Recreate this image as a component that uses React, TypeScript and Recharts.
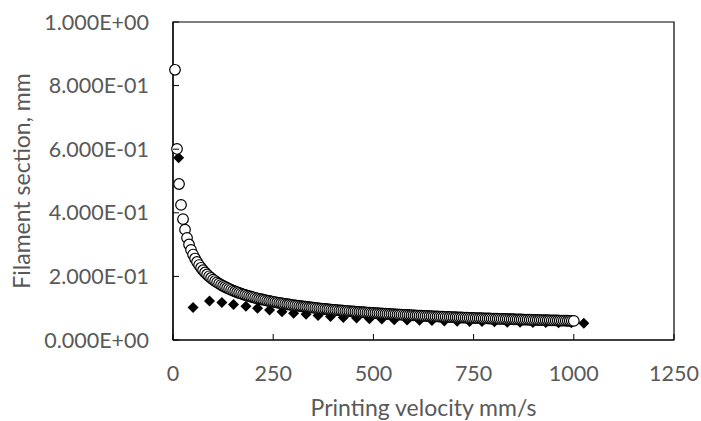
import React from "react";
import {
  ScatterChart,
  Scatter,
  XAxis,
  YAxis,
  ReferenceArea,
} from "recharts";

// Open-circle series (printing velocity, mm/s -> filament section, mm)
const circleVelocity = [
  5, 10, 15, 20, 25, 30, 35, 40, 45, 50, 55, 60, 65, 70, 75, 80, 85, 90, 95, 100,
  105, 110, 115, 120, 125, 130, 135, 140, 145, 150, 155, 160, 165, 170, 175, 180, 185, 190, 195, 200,
  205, 210, 215, 220, 225, 230, 235, 240, 245, 250, 255, 260, 265, 270, 275, 280, 285, 290, 295, 300,
  305, 310, 315, 320, 325, 330, 335, 340, 345, 350, 355, 360, 365, 370, 375, 380, 385, 390, 395, 400,
  405, 410, 415, 420, 425, 430, 435, 440, 445, 450, 455, 460, 465, 470, 475, 480, 485, 490, 495, 500,
  505, 510, 515, 520, 525, 530, 535, 540, 545, 550, 555, 560, 565, 570, 575, 580, 585, 590, 595, 600,
  605, 610, 615, 620, 625, 630, 635, 640, 645, 650, 655, 660, 665, 670, 675, 680, 685, 690, 695, 700,
  705, 710, 715, 720, 725, 730, 735, 740, 745, 750, 755, 760, 765, 770, 775, 780, 785, 790, 795, 800,
  805, 810, 815, 820, 825, 830, 835, 840, 845, 850, 855, 860, 865, 870, 875, 880, 885, 890, 895, 900,
  905, 910, 915, 920, 925, 930, 935, 940, 945, 950, 955, 960, 965, 970, 975, 980, 985, 990, 995, 1000,
];

const circleSection = [
  0.8497, 0.6008, 0.4906, 0.4249, 0.38, 0.3469, 0.3212, 0.3004, 0.2832, 0.2687,
  0.2562, 0.2453, 0.2357, 0.2271, 0.2194, 0.2124, 0.2061, 0.2003, 0.1949, 0.19,
  0.1854, 0.1812, 0.1772, 0.1734, 0.1699, 0.1666, 0.1635, 0.1606, 0.1578, 0.1551,
  0.1526, 0.1502, 0.1479, 0.1457, 0.1436, 0.1416, 0.1397, 0.1378, 0.1361, 0.1343,
  0.1327, 0.1311, 0.1296, 0.1281, 0.1267, 0.1253, 0.1239, 0.1226, 0.1214, 0.1202,
  0.119, 0.1178, 0.1167, 0.1156, 0.1146, 0.1135, 0.1125, 0.1116, 0.1106, 0.1097,
  0.1088, 0.1079, 0.1071, 0.1062, 0.1054, 0.1046, 0.1038, 0.103, 0.1023, 0.1016,
  0.1008, 0.1001, 0.0995, 0.0988, 0.0981, 0.0975, 0.0968, 0.0962, 0.0956, 0.095,
  0.0944, 0.0938, 0.0933, 0.0927, 0.0922, 0.0916, 0.0911, 0.0906, 0.0901, 0.0896,
  0.0891, 0.0886, 0.0881, 0.0876, 0.0872, 0.0867, 0.0863, 0.0858, 0.0854, 0.085,
  0.0845, 0.0841, 0.0837, 0.0833, 0.0829, 0.0825, 0.0821, 0.0818, 0.0814, 0.081,
  0.0806, 0.0803, 0.0799, 0.0796, 0.0792, 0.0789, 0.0786, 0.0782, 0.0779, 0.0776,
  0.0772, 0.0769, 0.0766, 0.0763, 0.076, 0.0757, 0.0754, 0.0751, 0.0748, 0.0745,
  0.0742, 0.074, 0.0737, 0.0734, 0.0731, 0.0729, 0.0726, 0.0723, 0.0721, 0.0718,
  0.0716, 0.0713, 0.0711, 0.0708, 0.0706, 0.0703, 0.0701, 0.0698, 0.0696, 0.0694,
  0.0691, 0.0689, 0.0687, 0.0685, 0.0682, 0.068, 0.0678, 0.0676, 0.0674, 0.0672,
  0.067, 0.0668, 0.0666, 0.0664, 0.0662, 0.066, 0.0658, 0.0656, 0.0654, 0.0652,
  0.065, 0.0648, 0.0646, 0.0644, 0.0642, 0.0641, 0.0639, 0.0637, 0.0635, 0.0633,
  0.0632, 0.063, 0.0628, 0.0626, 0.0625, 0.0623, 0.0621, 0.062, 0.0618, 0.0616,
  0.0615, 0.0613, 0.0612, 0.061, 0.0608, 0.0607, 0.0605, 0.0604, 0.0602, 0.0601,
];

// Filled-diamond series
const diamondVelocity = [
  14, 50, 91, 122, 151, 182, 211, 241, 272, 301, 332, 362, 393, 425, 458, 490, 521,
  552, 584, 615, 646, 677, 709, 740, 771, 802, 834, 866, 898, 930, 962, 994, 1025,
];
const diamondSection = [
  0.573, 0.102, 0.123, 0.118, 0.112, 0.106, 0.1, 0.094, 0.089, 0.084, 0.081, 0.077,
  0.074, 0.071, 0.069, 0.067, 0.066, 0.064, 0.063, 0.062, 0.061, 0.06, 0.059, 0.058,
  0.058, 0.057, 0.056, 0.056, 0.055, 0.055, 0.054, 0.054, 0.053,
];

const xTicks = [0, 250, 500, 750, 1000, 1250];
const yTicks = [0, 0.2, 0.4, 0.6, 0.8, 1.0];
const yTickLabels = ["0.000E+00", "2.000E-01", "4.000E-01", "6.000E-01", "8.000E-01", "1.000E+00"];

const xTitle = "Printing velocity mm/s";
const yTitle = "Filament section, mm";

const circleData = circleVelocity.map((v, i) => ({ v, s: circleSection[i] }));
const diamondData = diamondVelocity.map((v, i) => ({ v, s: diamondSection[i] }));

const FONT = "Lato, 'Liberation Sans', sans-serif";
const TEXT = "#595959";
const FS = 21.5;
const FS_TITLE = 23;

const XTick = (props: any) => {
  const { x, y, payload } = props;
  return (
    <g>
      <line x1={x} y1={y} x2={x} y2={y - 6} stroke="#000" strokeWidth={1} />
      <text x={x} y={y + 33.5} dy="0.35em" textAnchor="middle" fill={TEXT} fontSize={FS} fontFamily={FONT}>
        {payload.value}
      </text>
    </g>
  );
};

const YTick = (props: any) => {
  const { x, y, payload, index } = props;
  return (
    <g>
      <line x1={x} y1={y} x2={x + 6} y2={y} stroke="#000" strokeWidth={1} />
      <text x={x - 24} y={y} dy="0.35em" textAnchor="end" fill={TEXT} fontSize={FS} fontFamily={FONT}>
        {yTickLabels[index] ?? String(payload.value)}
      </text>
    </g>
  );
};

const CircleShape = (props: any) => {
  const { cx, cy } = props;
  return <circle cx={cx} cy={cy} r={5.3} fill="#fff" stroke="#000" strokeWidth={1.2} />;
};

const DiamondShape = (props: any) => {
  const { cx, cy } = props;
  const d = 5.5;
  return (
    <polygon
      points={`${cx},${cy - d} ${cx + d},${cy} ${cx},${cy + d} ${cx - d},${cy}`}
      fill="#000"
      stroke="none"
    />
  );
};

export default function App() {
  return (
    <div style={{ position: "absolute", left: 0, top: 0, width: 701, height: 421, background: "#fff" }}>
      <ScatterChart
        width={701}
        height={421}
        margin={{ top: 22, right: 27, bottom: 0, left: 0 }}
        style={{ overflow: "visible" }}
      >
        <ReferenceArea
          x1={0}
          x2={1250}
          y1={0}
          y2={1}
          fill="none"
          stroke="#000"
          strokeWidth={1.2}
          ifOverflow="visible"
        />
        <XAxis
          dataKey="v"
          type="number"
          domain={[0, 1250]}
          ticks={xTicks}
          interval={0}
          height={81}
          tickLine={false}
          tickSize={0}
          tickMargin={0}
          axisLine={{ stroke: "#000", strokeWidth: 1.2 }}
          tick={<XTick />}
          label={{
            content: (p: any) => {
              const vb = p.viewBox;
              return (
                <text
                  x={vb.x + vb.width / 2}
                  y={416}
                  textAnchor="middle"
                  fill={TEXT}
                  fontSize={FS_TITLE}
                  fontFamily={FONT}
                >
                  {xTitle}
                </text>
              );
            },
          }}
        />
        <YAxis
          dataKey="s"
          type="number"
          domain={[0, 1]}
          ticks={yTicks}
          interval={0}
          width={173}
          tickLine={false}
          tickSize={0}
          tickMargin={0}
          axisLine={{ stroke: "#000", strokeWidth: 1.2 }}
          tick={<YTick />}
          label={{
            content: (p: any) => {
              const vb = p.viewBox;
              const cy = vb.y + vb.height / 2;
              return (
                <text
                  x={22}
                  y={cy}
                  dy="0.35em"
                  textAnchor="middle"
                  transform={`rotate(-90, 22, ${cy})`}
                  fill={TEXT}
                  fontSize={FS_TITLE}
                  fontFamily={FONT}
                >
                  {yTitle}
                </text>
              );
            },
          }}
        />
        <Scatter data={diamondData} shape={<DiamondShape />} isAnimationActive={false} />
        <Scatter data={circleData} shape={<CircleShape />} isAnimationActive={false} />
      </ScatterChart>
    </div>
  );
}
